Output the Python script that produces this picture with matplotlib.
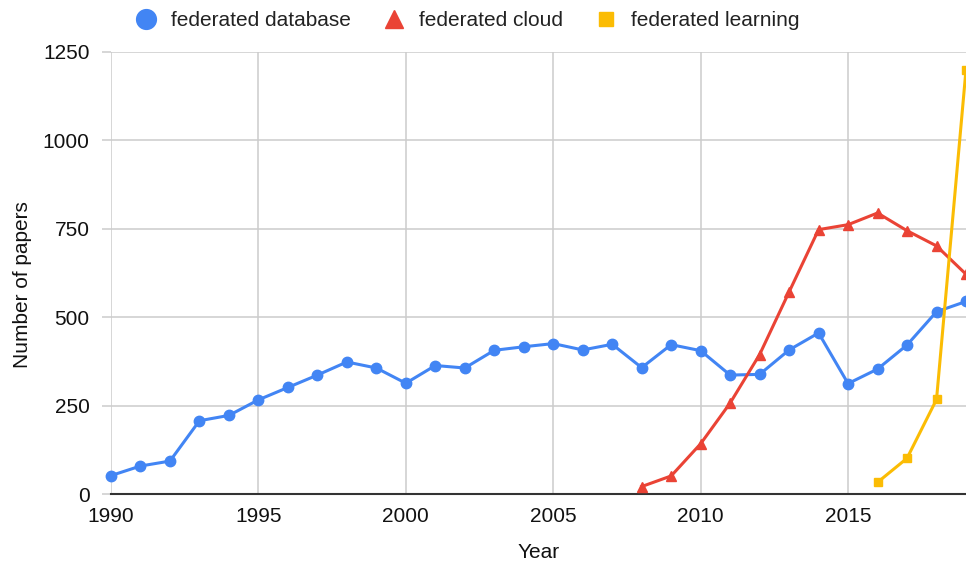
import matplotlib.pyplot as plt

plt.rcParams['font.family'] = ['Liberation Sans', 'DejaVu Sans']

years_db = list(range(1990, 2020))
database = [53, 80, 94, 208, 223, 267, 302, 337, 374, 357,
            314, 364, 357, 407, 417, 426, 408, 424, 358, 423,
            406, 337, 339, 408, 456, 313, 354, 422, 516, 545]

years_cloud = list(range(2008, 2020))
cloud = [22, 52, 143, 258, 395, 572, 748, 762, 795, 745, 702, 622]

years_fl = [2016, 2017, 2018, 2019]
learning = [34, 102, 268, 1200]

blue = '#4285F4'
red = '#EA4335'
yellow = '#FBBC04'

fig = plt.figure(figsize=(9.66, 5.62), dpi=100)
ax = fig.add_axes((0.1149, 0.1204, 0.8851, 0.7871))

ax.plot(years_db, database, color=blue, lw=2.2, marker='o', ms=7.5,
        label='federated database', zorder=3, clip_on=False)
ax.plot(years_cloud, cloud, color=red, lw=2.2, marker='^', ms=6.5,
        label='federated cloud', zorder=4, clip_on=False)
ax.plot(years_fl, learning, color=yellow, lw=2.2, marker='s', ms=5.5,
        label='federated learning', zorder=5, clip_on=False)

ax.set_xlim(1990, 2019)
ax.set_ylim(0, 1250)
ax.set_xticks([1990, 1995, 2000, 2005, 2010, 2015])
ax.set_yticks([0, 250, 500, 750, 1000, 1250])

ax.grid(True, color='#cccccc', lw=1.1)
ax.set_axisbelow(True)
for s in ['top', 'right', 'left']:
    ax.spines[s].set_visible(False)
ax.spines['bottom'].set_color('#333333')
ax.spines['bottom'].set_linewidth(1.5)
ax.spines['bottom'].set_zorder(2)

ax.tick_params(axis='x', length=0, pad=9, labelsize=15, labelcolor='#111111')
ax.tick_params(axis='y', length=6.5, width=1.1, color='#cccccc', pad=9,
               labelsize=15, labelcolor='#111111')

ax.set_xlabel('Year', fontsize=15, color='#111111')
ax.set_ylabel('Number of papers', fontsize=15, color='#111111')
ax.xaxis.set_label_coords(0.5, -0.111)
ax.yaxis.set_label_coords(-0.0923, 0.4735)

fig.legend(loc='center', bbox_to_anchor=(0.484, 0.963), ncol=3, frameon=False,
           fontsize=15, markerscale=1.9, handlelength=1.0, handletextpad=0.7,
           columnspacing=1.55, labelcolor='#222222')
for line in fig.legends[0].get_lines():
    line.set_linestyle('none')

fig.savefig('out.png', dpi=100)
